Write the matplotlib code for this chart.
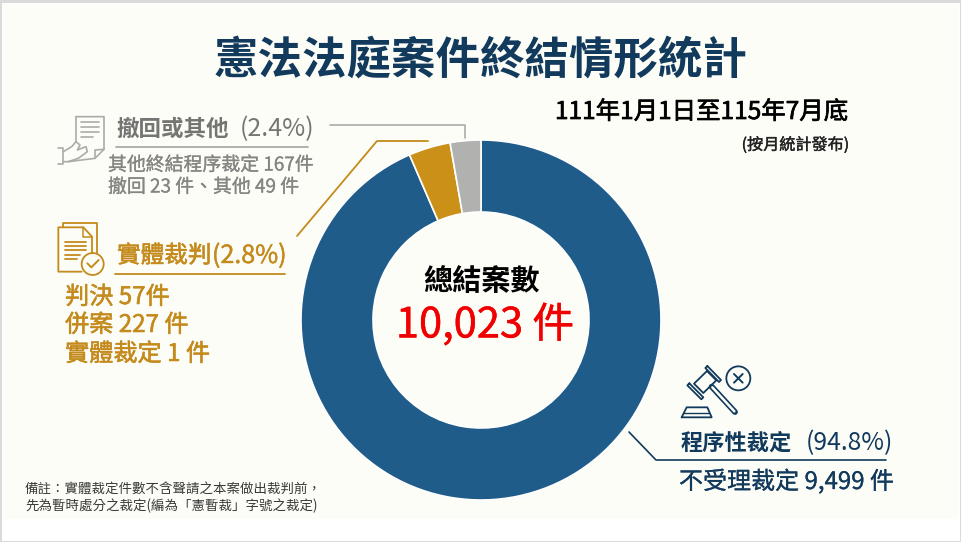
import matplotlib
matplotlib.use('Agg')
import matplotlib.pyplot as plt
import matplotlib.patheffects as pe
from matplotlib.patches import Circle, Rectangle

plt.rcParams['font.family'] = ['Noto Sans CJK TC', 'DejaVu Sans']

# shares as the arcs are drawn in the picture (they differ a little from the printed %)
categories = ['程序性裁定', '實體裁判', '撤回或其他']
arc_share = [93.5, 3.75, 2.75]
colors = ['#205C8A', '#CB9017', '#B1B1AF']

title = '憲法法庭案件終結情形統計'
period = '111年1月1日至115年7月底'
period_note = '(按月統計發布)'
center_label = '總結案數'
center_total = '10,023 件'
gray_pct = '(2.4%)'
gold_pct = '(2.8%)'
blue_pct = '(94.8%)'
gray_lines = ['其他終結程序裁定 167件', '撤回 23 件、其他 49 件']
gold_lines = ['判決 57件', '併案 227 件', '實體裁定 1 件']
blue_line = '不受理裁定 9,499 件'
notes = ['備註：實體裁定件數不含聲請之本案做出裁判前，',
         '先為暫時處分之裁定(編為「憲暫裁」字號之裁定)']

PANEL = '#FDFDF8'
GRAY_T = '#757573'
GRAY_S = '#858583'
GRAY_L = '#ABABA9'
GOLD = '#C48A1C'
NAVY = '#123A5C'

fig = plt.figure(figsize=(9.62, 5.42), dpi=100, facecolor='white')

# overlay in pixel coordinates of the picture
bg = fig.add_axes([0, 0, 1, 1])
bg.set_xlim(0, 962)
bg.set_ylim(542, 0)
bg.axis('off')
bg.add_patch(Rectangle((3, 4), 956, 515, fc=PANEL, ec='none'))
for s in ([0, 0, 962, 3], [0, 0, 2.5, 542], [0, 540.5, 962, 1.5], [960, 0, 2, 542]):
    bg.add_patch(Rectangle((s[0], s[1]), s[2], s[3], fc='#DADADA', ec='none'))

# donut, clockwise from 12 o'clock
ax = fig.add_axes([(481 - 198) / 962, (542 - 320 - 198) / 542, 396 / 962, 396 / 542])
ax.pie(arc_share, colors=colors, startangle=90, counterclock=False, radius=1,
       wedgeprops=dict(width=72 / 180, edgecolor='white', linewidth=1.2))
ax.set_xlim(-1.1, 1.1)
ax.set_ylim(-1.1, 1.1)
ax.patch.set_alpha(0)

top = fig.add_axes([0, 0, 1, 1])
top.set_xlim(0, 962)
top.set_ylim(542, 0)
top.axis('off')


def txt(x, y, s, size, color, weight='normal', ha='left', stroke=0):
    t = top.text(x, y, s, fontsize=size, color=color, fontweight=weight, ha=ha, va='center')
    if stroke:
        # no medium weight in the font, thicken regular a bit
        t.set_path_effects([pe.withStroke(linewidth=stroke, foreground=color)])


def line(xs, ys, color, lw=1.2):
    top.plot(xs, ys, color=color, lw=lw, solid_capstyle='round', solid_joinstyle='round')


txt(481, 61, title, 32, NAVY, 'bold', 'center')
txt(701.5, 112, period, 17.6, 'black', 'normal', 'center', 0.5)
txt(795.5, 145, period_note, 11.6, '#222222', 'normal', 'center', 0.3)

txt(482, 281, center_label, 21, 'black', 'bold', 'center')
txt(485, 325, center_total, 30, '#F00000', 'normal', 'center', 0.3)

# gray block
txt(116, 129, categories[2], 16.2, GRAY_T, 'bold')
txt(240, 129, gray_pct, 18, GRAY_T)
line([116, 308], [147, 147], GRAY_L, 1.3)
txt(108, 165, gray_lines[0], 13.6, GRAY_S, stroke=0.2)
txt(108, 187, gray_lines[1], 13.6, GRAY_S, stroke=0.2)
line([330, 465, 465], [125, 125, 138], GRAY_L, 1.2)

# gold block
txt(117, 256, categories[1], 17, GOLD, stroke=0.4)
txt(212, 256, gold_pct, 18, GOLD, stroke=0.3)
line([115, 285], [274, 274], GOLD, 1.3)
txt(65, 297, gold_lines[0], 17.4, GOLD, stroke=0.4)
txt(65, 325, gold_lines[1], 17.4, GOLD, stroke=0.4)
txt(65, 354, gold_lines[2], 17.4, GOLD, stroke=0.4)
line([297, 377, 428], [236, 141, 141], GOLD, 1.3)

# blue block
txt(681, 443, categories[0], 16, NAVY, 'bold')
txt(806, 443, blue_pct, 17.8, NAVY)
line([629, 656, 886], [432, 460, 460], NAVY, 1.2)
txt(679, 482, blue_line, 17.3, NAVY, stroke=0.2)

# footnote
txt(25, 489, notes[0], 9.7, '#3A3A3A')
txt(25, 506, notes[1], 9.7, '#3A3A3A')


def zpath(pts, ox, oy, color, lw=1.2, closed=False):
    pts = list(pts) + ([pts[0]] if closed else [])
    line([ox + p[0] / 3 for p in pts], [oy + p[1] / 3 for p in pts], color, lw)


# paper + hand
ox, oy = 0, 90
zpath([(228, 80), (312, 80), (312, 178), (285, 205), (205, 215)], ox, oy, GRAY_L)
zpath([(228, 80), (228, 155)], ox, oy, GRAY_L)
zpath([(312, 178), (285, 180), (285, 205)], ox, oy, GRAY_L)
for y, x1 in ((95, 298), (110, 298), (125, 298), (140, 278)):
    zpath([(242, y), (x1, y)], ox, oy, GRAY_L)
zpath([(175, 175), (190, 175), (190, 222), (175, 222)], ox, oy, GRAY_L)
zpath([(190, 185), (215, 170), (228, 155), (240, 165), (232, 180), (258, 170), (262, 185),
       (235, 205), (205, 215), (190, 215)], ox, oy, GRAY_L)

# documents + check
zpath([(190, 410), (190, 398), (290, 398), (290, 490)], ox, oy, GOLD, 1.3)
zpath([(245, 545), (175, 545), (175, 412), (250, 412), (276, 440), (276, 490)], ox, oy, GOLD, 1.3)
zpath([(250, 412), (250, 440), (276, 440)], ox, oy, GOLD, 1.1)
for y, x1 in ((455, 258), (468, 258), (481, 258), (494, 240), (507, 230)):
    zpath([(195, y), (x1, y)], ox, oy, GOLD, 1.3)
top.add_patch(Circle((278 / 3, 90 + 522 / 3), 11, fc=PANEL, ec=GOLD, lw=1.3))
zpath([(262, 520), (274, 532), (296, 510)], ox, oy, GOLD, 1.4)

# gavel
ox, oy = 620, 350
top.add_patch(Circle((620 + 355 / 3, 350 + 85 / 3), 12, fc='none', ec=NAVY, lw=1.3))
zpath([(342, 72), (368, 98)], ox, oy, NAVY, 1.4)
zpath([(368, 72), (342, 98)], ox, oy, NAVY, 1.4)
zpath([(261, 63), (289, 91), (250, 129), (222, 101)], ox, oy, NAVY, 1.3, closed=True)
zpath([(262, 48), (303, 90), (297, 96), (256, 54)], ox, oy, NAVY, 1.3, closed=True)
zpath([(208, 100), (250, 142), (244, 148), (202, 106)], ox, oy, NAVY, 1.3, closed=True)
zpath([(275, 110), (345, 186)], ox, oy, NAVY, 4.2)
zpath([(277, 112), (343, 184)], ox, oy, PANEL, 1.8)
zpath([(185, 202), (275, 202), (262, 172), (200, 172)], ox, oy, NAVY, 1.3, closed=True)
zpath([(190, 188), (268, 188)], ox, oy, NAVY, 1.0)

fig.savefig('out.png', dpi=100, facecolor='white')
